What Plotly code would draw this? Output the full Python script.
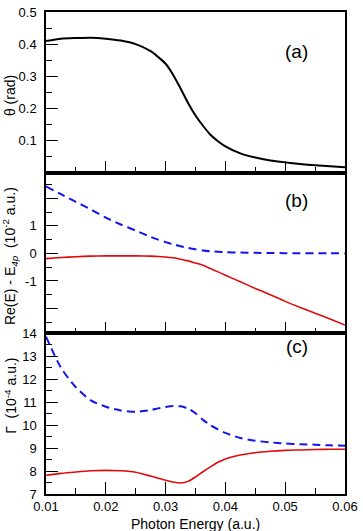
import plotly.graph_objects as go
from plotly.subplots import make_subplots

# photon energy grid (a.u.), denser around the resonance
energy = [0.01, 0.0125, 0.015, 0.0175, 0.02, 0.0225, 0.025, 0.0275, 0.02875, 0.03,
          0.03125, 0.0325, 0.03375, 0.035, 0.03625, 0.0375, 0.03875, 0.04,
          0.0425, 0.045, 0.0475, 0.05, 0.0525, 0.055, 0.0575, 0.06]

# (a) mixing angle theta (rad)
theta = [0.410, 0.417, 0.419, 0.420, 0.417, 0.411, 0.400, 0.378, 0.360, 0.339,
         0.305, 0.262, 0.217, 0.178, 0.146, 0.118, 0.098, 0.082,
         0.060, 0.047, 0.038, 0.032, 0.027, 0.023, 0.020, 0.017]

# (b) Re(E) - E_4p, units of 1e-2 a.u.
re_dashed = [2.43, 2.15, 1.87, 1.60, 1.30, 1.05, 0.83, 0.60, 0.50, 0.41,
             0.33, 0.26, 0.20, 0.15, 0.11, 0.08, 0.06, 0.045,
             0.03, 0.02, 0.015, 0.01, 0.01, 0.005, 0.005, 0.0]
re_solid = [-0.19, -0.15, -0.12, -0.10, -0.09, -0.09, -0.09, -0.10, -0.11, -0.13,
            -0.16, -0.21, -0.27, -0.35, -0.43, -0.55, -0.67, -0.79,
            -1.03, -1.27, -1.50, -1.74, -1.96, -2.17, -2.38, -2.60]

# (c) width Gamma, units of 1e-4 a.u.
gam_dashed = [13.86, 12.5, 11.65, 11.08, 10.80, 10.64, 10.58, 10.66, 10.73, 10.79,
              10.83, 10.82, 10.72, 10.52, 10.23, 10.0, 9.82, 9.66,
              9.44, 9.32, 9.25, 9.20, 9.17, 9.15, 9.12, 9.10]
gam_solid = [7.82, 7.90, 7.96, 8.01, 8.03, 8.01, 7.95, 7.78, 7.69, 7.60,
             7.52, 7.48, 7.55, 7.74, 7.97, 8.18, 8.38, 8.53,
             8.70, 8.80, 8.86, 8.90, 8.92, 8.94, 8.95, 8.95]

panel_tags = ['(a)', '(b)', '(c)']

FONT = 'Liberation Sans, Arial, Helvetica, sans-serif'
BLUE = '#1414f0'
RED = '#e00a0a'

fig = make_subplots(rows=3, cols=1, shared_xaxes=True, vertical_spacing=0)

line_kw = dict(shape='spline', smoothing=0.7)
fig.add_trace(go.Scatter(x=energy, y=theta, mode='lines',
                         line=dict(color='black', width=2, **line_kw)), row=1, col=1)
fig.add_trace(go.Scatter(x=energy, y=re_dashed, mode='lines',
                         line=dict(color=BLUE, width=2, dash='8px,5px', **line_kw)), row=2, col=1)
fig.add_trace(go.Scatter(x=energy, y=re_solid, mode='lines',
                         line=dict(color=RED, width=1.6, **line_kw)), row=2, col=1)
fig.add_trace(go.Scatter(x=energy, y=gam_dashed, mode='lines',
                         line=dict(color=BLUE, width=2, dash='8px,5px', **line_kw)), row=3, col=1)
fig.add_trace(go.Scatter(x=energy, y=gam_solid, mode='lines',
                         line=dict(color=RED, width=1.6, **line_kw)), row=3, col=1)

axis_common = dict(showline=True, linecolor='black', linewidth=1.5, mirror=True,
                   ticks='inside', ticklen=12, tickwidth=1, tickcolor='black',
                   showgrid=False, zeroline=False,
                   tickfont=dict(family=FONT, size=13, color='black'))

for r in (1, 2, 3):
    fig.update_xaxes(range=[0.01, 0.06], dtick=0.01, tick0=0.01,
                     minor=dict(ticks='inside', ticklen=6, dtick=0.005, tick0=0.01, tickcolor='black'),
                     ticklabelstandoff=0, **axis_common, row=r, col=1)

fig.update_xaxes(tickformat='.2f', row=3, col=1)

fig.update_yaxes(range=[0, 0.5], tickmode='array', tickvals=[0.1, 0.2, 0.3, 0.4, 0.5],
                 minor=dict(ticks='inside', ticklen=6, tickmode='linear', dtick=0.05, tick0=0, tickcolor='black'),
                 ticklabelstandoff=5, **axis_common, row=1, col=1)
fig.update_yaxes(range=[-2.9, 2.93], tickmode='array', tickvals=[-2, -1, 0, 1, 2],
                 ticktext=[' ', '-1', '0', '1', ' '],
                 minor=dict(ticks='inside', ticklen=6, tickmode='linear', dtick=0.5, tick0=0, tickcolor='black'),
                 ticklabelstandoff=5, **axis_common, row=2, col=1)
fig.update_yaxes(range=[7, 14], dtick=1, tick0=7,
                 minor=dict(ticks='inside', ticklen=6, dtick=0.5, tick0=7, tickcolor='black'),
                 ticklabelstandoff=5, **axis_common, row=3, col=1)

annotations = []
for tag, ypos in zip(panel_tags, [0.944, 0.608, 0.280]):
    annotations.append(dict(text=tag, x=0.883, y=ypos, xref='paper', yref='paper',
                            showarrow=False, font=dict(family=FONT, size=19, color='black')))

ytitles = [
    ('\u03b8 (rad)', 0.827),
    ('Re(E) - E<sub><i>4p</i></sub>  (10<sup>-2</sup> a.u.)', 0.493),
    ('\u0393  (10<sup>-4</sup> a.u.)', 0.203),
]
for txt, ypos in ytitles:
    annotations.append(dict(text=txt, x=-0.118, y=ypos, xref='paper', yref='paper',
                            textangle=-90, showarrow=False, xanchor='center', yanchor='middle',
                            font=dict(family=FONT, size=14, color='black')))

annotations.append(dict(text='Photon Energy (a.u.)', x=0.5, y=-0.062, xref='paper', yref='paper',
                        showarrow=False, yanchor='middle',
                        font=dict(family=FONT, size=14, color='black')))

fig.update_layout(
    width=363, height=531,
    margin=dict(l=46, r=15, t=5, b=37),
    paper_bgcolor='white', plot_bgcolor='white',
    showlegend=False,
    annotations=annotations,
)

# page body has a default 8px margin; remove it so the figure fills the window
fig.write_html("out.html", config={'displayModeBar': False},
               post_script="document.body.style.margin='0';")
